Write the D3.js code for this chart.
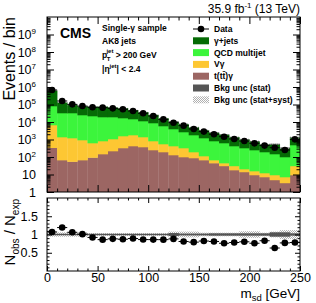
<!DOCTYPE html>
<html><head><meta charset="utf-8">
<script src="https://cdn.jsdelivr.net/npm/d3@7"></script>
<style>
html,body{margin:0;padding:0;background:#fff;}
svg{display:block;font-family:"Liberation Sans",Arial,sans-serif;}
</style></head><body>
<svg id="c" width="316" height="303"></svg>
<script>
// m_sd distribution, single-photon sample, 10 GeV bins from 0 to 250
const binEdges = d3.range(0, 251, 10);
const gjets   = [550000, 100500, 63500, 55400, 53200, 57600, 49200, 44800, 33200, 25300, 16700, 10500, 6380, 4940, 3230, 2220, 1650, 1270, 945, 690, 542, 346, 390, 226, 827];
const qcd     = [75300, 31300, 31500, 24200, 21400, 18500, 18200, 15300, 13000, 10000, 7950, 5360, 3560, 2360, 1610, 1100, 754, 586, 394, 306, 235, 181, 139, 93, 454];
const vgamma  = [6400, 1320, 1160, 870, 537, 673, 848, 1260, 1380, 1020, 570, 360, 295, 227, 105, 47, 22, 14, 13, 6.6, 6.4, 5, 4.5, 3.9, 21.6];
const ttgamma = [340, 67, 55, 67, 94, 148, 220, 327, 425, 373, 251, 193, 130, 100, 88, 67, 45, 31, 18, 14, 9.4, 7.2, 4.9, 3.3, 9.4];
const dataObs = [676000, 158500, 102000, 81300, 69200, 66100, 60300, 53700, 42700, 31600, 21900, 14100, 9120, 6170, 3980, 2820, 2000, 1445, 1070, 813, 603, 447, 339, 251, 1023];
// relative uncertainties on the background sum
const statUnc = [0.01, 0.01, 0.01, 0.01, 0.01, 0.01, 0.01, 0.01, 0.01, 0.01, 0.01, 0.01, 0.04, 0.02, 0.02, 0.02, 0.03, 0.03, 0.03, 0.03, 0.03, 0.03, 0.06, 0.06, 0.03];
const totUnc  = [0.06, 0.06, 0.06, 0.06, 0.04, 0.04, 0.04, 0.04, 0.04, 0.04, 0.04, 0.04, 0.08, 0.08, 0.08, 0.05, 0.05, 0.05, 0.05, 0.09, 0.09, 0.05, 0.08, 0.12, 0.12];
const xMajor = [0, 50, 100, 150, 200, 250];
const yDecades = d3.range(0, 10);
const rMajor = [0.5, 1, 1.5];

const X0 = 47, X1 = 300, T1 = 17, B1 = 192, T2 = 198, B2 = 271;
const svg = d3.select('#c');
const x = d3.scaleLinear().domain([0, 250]).range([X0, X1]);
const y = d3.scaleLog().domain([1, 1e10]).range([B1, T1]);
const yr = d3.scaleLinear().domain([0, 2]).range([B2, T2]);

const defs = svg.append('defs');
const pat = defs.append('pattern').attr('id', 'hatch').attr('patternUnits', 'userSpaceOnUse')
  .attr('width', 2).attr('height', 2);
pat.append('rect').attr('width', 1).attr('height', 1).attr('fill', '#b0b0b0');
pat.append('rect').attr('x', 1).attr('y', 1).attr('width', 1).attr('height', 1).attr('fill', '#b0b0b0');
defs.append('clipPath').attr('id', 'clipTop').append('rect').attr('x', X0).attr('y', T1).attr('width', X1 - X0).attr('height', B1 - T1);
defs.append('clipPath').attr('id', 'clipBot').append('rect').attr('x', X0).attr('y', T2).attr('width', X1 - X0).attr('height', B2 - T2);

// stacked backgrounds
const keys = ['tt', 'vg', 'qcd', 'gj'];
const colors = { tt: '#9c6663', vg: '#fdc733', qcd: '#3cf53c', gj: '#056b05' };
const rows = binEdges.slice(0, -1).map((lo, i) => ({ lo, hi: binEdges[i + 1], tt: ttgamma[i], vg: vgamma[i], qcd: qcd[i], gj: gjets[i] }));
const series = d3.stack().keys(keys)(rows);
const total = rows.map(r => r.tt + r.vg + r.qcd + r.gj);

const gTop = svg.append('g').attr('clip-path', 'url(#clipTop)');
series.forEach(s => {
  gTop.append('g').selectAll('rect').data(s).join('rect')
    .attr('x', d => x(d.data.lo)).attr('width', d => x(d.data.hi) - x(d.data.lo) + 0.3)
    .attr('y', d => y(d[1]))
    .attr('height', d => y(Math.max(d[0], 1)) - y(d[1]) + 0.3)
    .attr('fill', colors[s.key]);
});
// uncertainty bands on the stack
gTop.append('g').selectAll('rect').data(rows).join('rect')
  .attr('x', d => x(d.lo)).attr('width', d => x(d.hi) - x(d.lo))
  .attr('y', (d, i) => y(total[i] * (1 + totUnc[i])))
  .attr('height', (d, i) => y(total[i] * (1 - totUnc[i])) - y(total[i] * (1 + totUnc[i])))
  .attr('fill', 'url(#hatch)');
gTop.append('g').selectAll('rect').data(rows).join('rect')
  .attr('x', d => x(d.lo)).attr('width', d => x(d.hi) - x(d.lo))
  .attr('y', (d, i) => y(total[i] * (1 + statUnc[i])))
  .attr('height', (d, i) => y(total[i] * (1 - statUnc[i])) - y(total[i] * (1 + statUnc[i])))
  .attr('fill', '#555');

// data points
const gData = svg.append('g');
gData.selectAll('line').data(rows).join('line')
  .attr('x1', d => x(d.lo)).attr('x2', d => x(d.hi))
  .attr('y1', (d, i) => y(dataObs[i])).attr('y2', (d, i) => y(dataObs[i]))
  .attr('stroke', '#000').attr('stroke-width', 1);
gData.selectAll('circle').data(rows).join('circle')
  .attr('cx', d => x((d.lo + d.hi) / 2)).attr('cy', (d, i) => y(dataObs[i]))
  .attr('r', 3.3).attr('fill', '#000');

// ratio panel
const gBot = svg.append('g').attr('clip-path', 'url(#clipBot)');
gBot.append('g').selectAll('rect').data(rows).join('rect')
  .attr('x', d => x(d.lo)).attr('width', d => x(d.hi) - x(d.lo) + 0.3)
  .attr('y', (d, i) => yr(1 + totUnc[i])).attr('height', (d, i) => yr(1 - totUnc[i]) - yr(1 + totUnc[i]))
  .attr('fill', 'url(#hatch)');
gBot.append('line').attr('x1', X0).attr('x2', X1).attr('y1', yr(1)).attr('y2', yr(1))
  .attr('stroke', '#555').attr('stroke-width', 1.5);
gBot.append('g').selectAll('rect').data(rows).join('rect')
  .attr('x', d => x(d.lo)).attr('width', d => x(d.hi) - x(d.lo) + 0.3)
  .attr('y', (d, i) => yr(1 + statUnc[i])).attr('height', (d, i) => yr(1 - statUnc[i]) - yr(1 + statUnc[i]))
  .attr('fill', '#555');
const ratio = dataObs.map((v, i) => v / total[i]);
gBot.append('g').selectAll('line').data(rows).join('line')
  .attr('x1', d => x(d.lo)).attr('x2', d => x(d.hi))
  .attr('y1', (d, i) => yr(ratio[i])).attr('y2', (d, i) => yr(ratio[i]))
  .attr('stroke', '#000');
gBot.append('g').selectAll('circle').data(rows).join('circle')
  .attr('cx', d => x((d.lo + d.hi) / 2)).attr('cy', (d, i) => yr(ratio[i]))
  .attr('r', 3.3).attr('fill', '#000');

// axes (ROOT style: inward ticks on all sides)
function ticks(g, axis) {
  g.call(axis);
  g.select('.domain').remove();
  g.selectAll('line').attr('stroke', '#000');
}
const xMinor = d3.range(0, 251, 10).filter(v => v % 50);
const yMinor = [];
yDecades.forEach(k => { for (let m = 2; m < 10; m++) yMinor.push(m * Math.pow(10, k)); });
const rMinor = d3.range(0.1, 2, 0.1).map(v => +v.toFixed(1)).filter(v => !rMajor.includes(v));

[[B1, T1, 7, 3.5], [B2, T2, 5, 2.5]].forEach(([bot, top, maj, mi]) => {
  ticks(svg.append('g').attr('transform', `translate(0,${bot})`), d3.axisBottom(x).tickValues(xMajor).tickSize(-maj).tickFormat(''));
  ticks(svg.append('g').attr('transform', `translate(0,${bot})`), d3.axisBottom(x).tickValues(xMinor).tickSize(-mi).tickFormat(''));
  ticks(svg.append('g').attr('transform', `translate(0,${top})`), d3.axisTop(x).tickValues(xMajor).tickSize(-maj).tickFormat(''));
  ticks(svg.append('g').attr('transform', `translate(0,${top})`), d3.axisTop(x).tickValues(xMinor).tickSize(-mi).tickFormat(''));
});
const yMajorVals = yDecades.map(k => Math.pow(10, k));
[[X0, d3.axisLeft], [X1, d3.axisRight]].forEach(([pos, ax], j) => {
  const gM = svg.append('g').attr('transform', `translate(${pos},0)`);
  ticks(gM, ax(y).tickValues(yMajorVals).tickSize(-7).tickPadding(4 + 7).tickFormat(j ? '' : d => d));
  ticks(svg.append('g').attr('transform', `translate(${pos},0)`), ax(y).tickValues(yMinor).tickSize(-3.5).tickFormat(''));
  const gR = svg.append('g').attr('transform', `translate(${pos},0)`);
  ticks(gR, ax(yr).tickValues(rMajor).tickSize(-5).tickPadding(4 + 5).tickFormat(j ? '' : d => d));
  ticks(svg.append('g').attr('transform', `translate(${pos},0)`), ax(yr).tickValues(rMinor).tickSize(-2.5).tickFormat(''));
  if (!j) {
    gM.selectAll('text').each(function (d) {
      const k = Math.round(Math.log10(d));
      const t = d3.select(this).text(null);
      if (k < 2) { t.text(k === 0 ? '1' : '10'); return; }
      t.append('tspan').text('10');
      t.append('tspan').attr('font-size', 8).attr('dy', -5).text(k);
    });
    gM.selectAll('text').attr('font-size', 12.5).attr('fill', '#000').attr('font-family', null);
    gR.selectAll('text').attr('font-size', 12.5).attr('fill', '#000').attr('font-family', null);
  }
});
const gXl = svg.append('g').attr('transform', `translate(0,${B2})`);
gXl.call(d3.axisBottom(x).tickValues(xMajor).tickSize(0).tickPadding(2));
gXl.select('.domain').remove();
gXl.selectAll('text').attr('font-size', 12.5).attr('fill', '#000').attr('font-family', null);

// frames
[[T1, B1], [T2, B2]].forEach(([t, b]) => svg.append('rect').attr('x', X0).attr('y', t)
  .attr('width', X1 - X0).attr('height', b - t).attr('fill', 'none').attr('stroke', '#000'));

// titles
svg.append('text').attr('transform', `translate(15,${T1}) rotate(-90)`).attr('text-anchor', 'end')
  .attr('font-size', 16).text('Events / bin');
const ny = svg.append('text').attr('transform', `translate(15,${T2 + 1}) rotate(-90)`).attr('text-anchor', 'end')
  .attr('font-size', 15);
ny.append('tspan').text('N');
ny.append('tspan').attr('font-size', 10).attr('dy', 4).text('obs');
ny.append('tspan').attr('dy', -4).text(' / N');
ny.append('tspan').attr('font-size', 10).attr('dy', 4).text('exp');
const xt = svg.append('text').attr('x', X1).attr('y', 298).attr('text-anchor', 'end').attr('font-size', 13.5);
xt.append('tspan').text('m');
xt.append('tspan').attr('font-size', 9.5).attr('dy', 3).text('sd');
xt.append('tspan').attr('dy', -3).text(' [GeV]');

const lumi = svg.append('text').attr('x', X1).attr('y', 13).attr('text-anchor', 'end').attr('font-size', 12);
lumi.append('tspan').text('35.9 fb');
lumi.append('tspan').attr('font-size', 8).attr('dy', -5).text('-1');
lumi.append('tspan').attr('dy', 5).text(' (13 TeV)');

svg.append('text').attr('x', 60).attr('y', 38).attr('font-size', 14).attr('font-weight', 'bold').text('CMS');
const hdr = svg.append('g').attr('font-size', 8.5).attr('font-weight', 'bold');
hdr.append('text').attr('x', 102).attr('y', 31).text('Single-γ sample');
hdr.append('text').attr('x', 102).attr('y', 44).text('AK8 jets');
const pt = hdr.append('text').attr('x', 102).attr('y', 58);
pt.append('tspan').text('p');
pt.append('tspan').attr('font-size', 6).attr('dy', 3).attr('dx', -0.5).text('T');
pt.append('tspan').attr('font-size', 6).attr('dy', -8).attr('dx', -4).text('jet');
pt.append('tspan').attr('dy', 5).text(' > 200 GeV');
const eta = hdr.append('text').attr('x', 102).attr('y', 72);
eta.append('tspan').text('|η');
eta.append('tspan').attr('font-size', 6).attr('dy', -4).text('jet');
eta.append('tspan').attr('dy', 4).text('| < 2.4');

// legend
const legItems = [
  { label: 'Data', type: 'data' },
  { label: 'γ+jets', fill: colors.gj },
  { label: 'QCD multijet', fill: colors.qcd },
  { label: 'Vγ', fill: colors.vg },
  { label: 't(tt̄)γ', fill: colors.tt },
  { label: 'Bkg unc (stat)', fill: '#555' },
  { label: 'Bkg unc (stat+syst)', fill: 'url(#hatch)' },
];
const leg = svg.append('g').attr('font-size', 8.5).attr('font-weight', 'bold');
legItems.forEach((it, i) => {
  const cy = 29 + i * 11.8;
  if (it.type === 'data') {
    leg.append('line').attr('x1', 193).attr('x2', 209).attr('y1', cy).attr('y2', cy).attr('stroke', '#000');
    leg.append('circle').attr('cx', 201).attr('cy', cy).attr('r', 3.3);
  } else {
    leg.append('rect').attr('x', 193).attr('y', cy - 3.5).attr('width', 16).attr('height', 7).attr('fill', it.fill);
  }
  leg.append('text').attr('x', 214).attr('y', cy + 3).text(it.label);
});
</script>
</body></html>
